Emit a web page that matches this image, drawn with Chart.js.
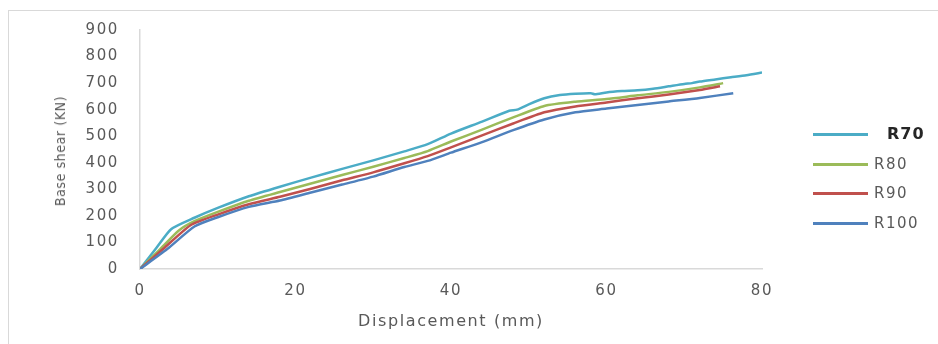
<!DOCTYPE html>
<html>
<head>
<meta charset="utf-8">
<script src="https://cdn.jsdelivr.net/npm/chart.js@4"></script>
<style>
  html, body { margin: 0; padding: 0; background: #fff; }
  #wrap { position: relative; width: 938px; height: 344px; overflow: hidden; }
  #frame { position: absolute; left: 8px; top: 10px; width: 940px; height: 340px;
           border-left: 1px solid #d9d9d9; border-top: 1px solid #d9d9d9; }
  #chart { position: absolute; left: 0; top: 0; }
  #ytitle { position: absolute; left: 60px; top: 151px; transform: translate(-50%, -50%) rotate(-90deg);
            font-family: "DejaVu Sans Condensed", "DejaVu Sans", sans-serif; font-size: 14px;
            letter-spacing: 0.6px; color: #595959; white-space: nowrap; }
  .leg { position: absolute; left: 813px; height: 20px; font-family: "DejaVu Sans", sans-serif;
         font-size: 15px; letter-spacing: 1.5px; color: #595959; }
  .leg i { position: absolute; left: 0; top: 9px; width: 55px; height: 2.5px; }
  .leg span { position: absolute; left: 61px; top: 0; line-height: 20px; white-space: nowrap; }
</style>
</head>
<body>
<div id="wrap">
  <div id="frame"></div>
  <canvas id="chart" width="938" height="344"></canvas>
  <div id="ytitle">Base shear (KN)</div>
  <div id="legend"></div>
</div>
<script>
// series names and colours
const seriesNames = ['R70', 'R80', 'R90', 'R100'];
const seriesColors = ['#4BACC6', '#9BBB59', '#C0504D', '#4F81BD'];

// displacement (mm) / base shear (KN)
const r70 = [
    [0, 0], [2, 75], [4, 150], [7, 193], [10, 230], [14, 274], [18, 310], [22, 344],
    [26, 377], [30, 409], [34, 443], [37, 470], [40, 510], [44, 555], [47.5, 596],
    [48.5, 600], [50, 620], [52, 643], [54, 655], [56, 660], [58, 662], [58.5, 658],
    [60, 665], [62, 670], [64, 673], [66, 679], [68, 688], [70, 697], [71, 700],
    [72, 706], [74, 714], [76, 722], [78, 730], [80, 740]
];
const r80 = [
    [0, 0], [2.5, 72], [5, 145], [7, 180], [10, 215], [14, 257], [18, 290], [22, 322],
    [26, 354], [30, 385], [34, 418], [37, 444], [40, 480], [44, 525], [48, 571],
    [52, 614], [56, 630], [60, 640], [64, 654], [68, 667], [72, 684], [75, 700]
];
const r90 = [
    [0, 0], [3, 76], [6.5, 165], [10, 205], [14, 244], [18, 272], [22, 302], [26, 334],
    [30, 364], [34, 398], [37, 425], [40, 458], [44, 503], [48, 548], [52, 590],
    [56, 612], [60, 627], [64, 643], [68, 657], [72, 674], [74.6, 688]
];
const r100 = [
    [0, 0], [3.5, 75], [7, 160], [10, 195], [14, 234], [18, 258], [22, 288], [26, 318],
    [30, 348], [34, 384], [37, 407], [40, 438], [44, 478], [48, 523], [52, 563],
    [56, 590], [60, 604], [64, 618], [68, 631], [72, 644], [76.3, 662]
];
const seriesData = [r70, r80, r90, r100];

// axis ticks
const xTicks = [0, 20, 40, 60, 80];
const yTicks = [0, 100, 200, 300, 400, 500, 600, 700, 800, 900];

const tickFont = { family: "'DejaVu Sans', sans-serif", size: 15 };
const gray = '#595959';

// the original text is drawn wide, so space the canvas letters out a little
const wideText = {
    id: 'wideText',
    beforeDraw(chart) { chart.ctx.letterSpacing = '1.6px'; }
};

const datasets = seriesNames.map((name, i) => ({
    label: name,
    data: seriesData[i].map(p => ({ x: p[0], y: p[1] })),
    borderColor: seriesColors[i],
    backgroundColor: seriesColors[i],
    borderWidth: 2.5,
    pointRadius: 0,
    tension: 0.2,
    fill: false
})).reverse();

new Chart(document.getElementById('chart'), {
    type: 'line',
    data: { datasets: datasets },
    plugins: [wideText],
    options: {
        responsive: false,
        animation: false,
        layout: { padding: { top: 28, right: 176, left: 0, bottom: 0 } },
        plugins: { legend: { display: false }, tooltip: { enabled: false } },
        scales: {
            x: {
                type: 'linear',
                min: 0,
                max: 80,
                afterBuildTicks: axis => { axis.ticks = xTicks.map(v => ({ value: v })); },
                afterFit: axis => { axis.height = 75; },
                grid: { display: false, drawTicks: false },
                border: { color: '#d9d9d9', width: 1.5 },
                ticks: { color: gray, font: tickFont, padding: 13, maxRotation: 0 },
                title: {
                    display: true,
                    text: 'Displacement (mm)',
                    color: gray,
                    font: { family: "'DejaVu Sans', sans-serif", size: 16 },
                    padding: { top: 4, bottom: 13 }
                }
            },
            y: {
                min: 0,
                max: 900,
                afterBuildTicks: axis => { axis.ticks = yTicks.map(v => ({ value: v })); },
                afterFit: axis => { axis.width = 140; },
                grid: { display: false, drawTicks: false },
                border: { color: '#d9d9d9', width: 1.5 },
                ticks: { color: gray, font: tickFont, padding: 21 }
            }
        }
    }
});

// legend on the right, R70 drawn bold as in the original
const legendTops = [124, 154, 183, 213];
const legend = document.getElementById('legend');
seriesNames.forEach((name, i) => {
    const row = document.createElement('div');
    row.className = 'leg';
    row.style.top = legendTops[i] + 'px';
    const line = document.createElement('i');
    line.style.background = seriesColors[i];
    const label = document.createElement('span');
    label.textContent = name;
    if (i === 0) {
        label.style.fontWeight = 'bold';
        label.style.color = '#262626';
        label.style.fontSize = '16px';
        label.style.letterSpacing = '1px';
        label.style.left = '74px';
    }
    row.appendChild(line);
    row.appendChild(label);
    legend.appendChild(row);
});
</script>
</body>
</html>
